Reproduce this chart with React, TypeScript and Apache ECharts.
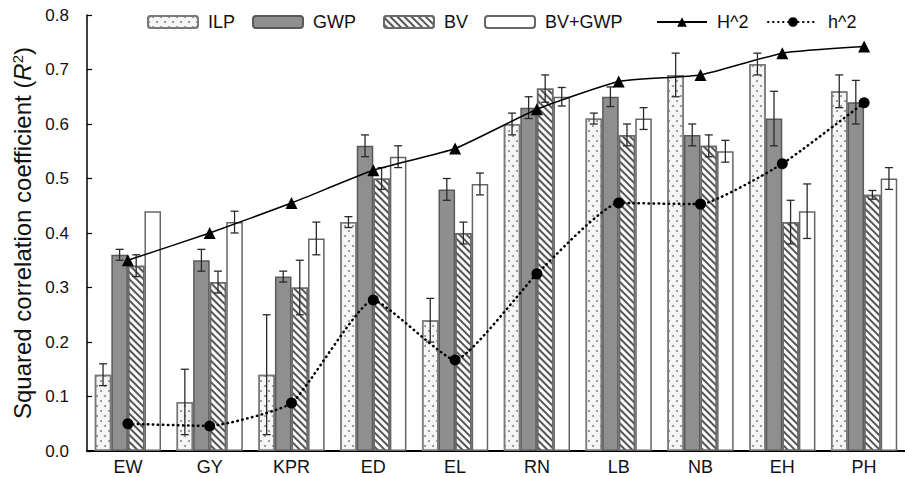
import React, { useEffect, useRef } from "react";
import * as echarts from "echarts";

const categories = ["EW", "GY", "KPR", "ED", "EL", "RN", "LB", "NB", "EH", "PH"];
const ilp = [0.14, 0.09, 0.14, 0.42, 0.24, 0.6, 0.61, 0.69, 0.71, 0.66];
const ilpErr = [0.02, 0.06, 0.11, 0.01, 0.04, 0.02, 0.01, 0.04, 0.02, 0.03];
const gwp = [0.36, 0.35, 0.32, 0.56, 0.48, 0.63, 0.65, 0.58, 0.61, 0.64];
const gwpErr = [0.01, 0.02, 0.01, 0.02, 0.02, 0.02, 0.018, 0.02, 0.05, 0.04];
const bv = [0.34, 0.31, 0.3, 0.5, 0.4, 0.665, 0.58, 0.56, 0.42, 0.47];
const bvErr = [0.02, 0.02, 0.05, 0.02, 0.02, 0.025, 0.02, 0.02, 0.04, 0.008];
const bvgwp = [0.44, 0.42, 0.39, 0.54, 0.49, 0.65, 0.61, 0.55, 0.44, 0.5];
const bvgwpErr = [0, 0.02, 0.03, 0.02, 0.02, 0.017, 0.02, 0.02, 0.05, 0.02];
const H2 = [0.35, 0.4, 0.455, 0.515, 0.555, 0.627, 0.678, 0.69, 0.73, 0.742];
const h2 = [0.05, 0.046, 0.088, 0.277, 0.167, 0.325, 0.455, 0.453, 0.527, 0.639];
const yTicks = [0, 0.1, 0.2, 0.3, 0.4, 0.5, 0.6, 0.7, 0.8];

const GAP = 0.19;
const FONT = "'Liberation Sans', Arial, sans-serif";

function makeErr(name: string, k: number, vals: number[], errs: number[]) {
  return {
    type: "custom",
    name: name + "_err",
    z: 5,
    silent: true,
    encode: { x: 0, y: [1, 2] },
    data: vals.map((v, i) => [i, v - errs[i], v + errs[i]]),
    renderItem: (params: any, api: any) => {
      const i = api.value(0);
      const lo = api.value(1);
      const hi = api.value(2);
      if (hi - lo <= 0) return null;
      const p1 = api.coord([i, hi]);
      const p2 = api.coord([i, lo]);
      const band = api.size([1, 0])[0];
      const bw = (band * (1 - GAP)) / 4;
      const x = p1[0] + (k - 1.5) * bw;
      const style = { stroke: "#2a2a2a", lineWidth: 1.3, fill: "none" };
      return {
        type: "group",
        children: [
          { type: "line", shape: { x1: x, y1: p1[1], x2: x, y2: p2[1] }, style },
          { type: "line", shape: { x1: x - 4, y1: p1[1], x2: x + 4, y2: p1[1] }, style },
          { type: "line", shape: { x1: x - 4, y1: p2[1], x2: x + 4, y2: p2[1] }, style },
        ],
      };
    },
  };
}

function legendAt(name: string, left: number) {
  return {
    data: [name],
    left,
    top: 13,
    padding: 0,
    itemWidth: 50,
    itemHeight: 12,
    textStyle: { fontSize: 18, color: "#111", fontFamily: FONT, padding: [0, 0, 0, 5] },
  };
}

export default function App() {
  const ref = useRef<HTMLDivElement>(null);
  useEffect(() => {
    if (!ref.current) return;
    const chart = echarts.init(ref.current, undefined, { renderer: "svg" });
    const barCommon = {
      type: "bar",
      barGap: "0%",
      barCategoryGap: GAP * 100 + "%",
      z: 2,
    };
    chart.setOption({
      animation: false,
      textStyle: { fontFamily: FONT },
      legend: [
        legendAt("ILP", 147),
        legendAt("GWP", 252),
        legendAt("BV", 383),
        legendAt("BV+GWP", 484),
        legendAt("H^2", 656),
        legendAt("h^2", 767),
      ],
      grid: { left: 87, right: -8, top: 15, bottom: 26, containLabel: false },
      xAxis: {
        type: "category",
        data: categories,
        axisLine: { lineStyle: { color: "#000", width: 2 } },
        axisTick: { inside: true, length: 5, lineStyle: { color: "#000", width: 1.2 } },
        axisLabel: { fontSize: 18, color: "#111", margin: 7, fontFamily: FONT },
      },
      yAxis: {
        type: "value",
        min: yTicks[0],
        max: yTicks[yTicks.length - 1],
        interval: 0.1,
        name: "Squared correlation coefficient ({it|R}{sup|2})",
        nameLocation: "middle",
        nameGap: 50,
        nameRotate: 90,
        nameTextStyle: {
          fontSize: 24,
          color: "#111",
          fontFamily: FONT,
          rich: {
            it: { fontSize: 24, fontStyle: "italic", color: "#111", fontFamily: FONT },
            sup: { fontSize: 15, color: "#111", verticalAlign: "top", fontFamily: FONT },
          },
        },
        axisLine: { show: true, lineStyle: { color: "#000", width: 1.5 } },
        axisTick: { show: true, inside: true, length: 5, lineStyle: { color: "#000", width: 1.2 } },
        axisLabel: {
          fontSize: 17,
          color: "#111",
          margin: 18,
          fontFamily: FONT,
          formatter: (v: number) => v.toFixed(1),
        },
        splitLine: { show: false },
      },
      series: [
        {
          ...barCommon,
          name: "ILP",
          data: ilp,
          itemStyle: {
            color: "#f6f6f6",
            borderColor: "#7a7a7a",
            borderWidth: 1.5,
            decal: {
              symbol: "circle",
              symbolSize: 1,
              color: "#8a8a8a",
              dashArrayX: [[1.6, 5.4], [0, 3.5, 1.6, 1.9]],
              dashArrayY: [1.6, 2.4],
              rotation: 0,
            },
          },
        },
        {
          ...barCommon,
          name: "GWP",
          data: gwp,
          itemStyle: { color: "#8f8f8f", borderColor: "#5a5a5a", borderWidth: 1.5 },
        },
        {
          ...barCommon,
          name: "BV",
          data: bv,
          itemStyle: {
            color: "#fafafa",
            borderColor: "#6a6a6a",
            borderWidth: 1.5,
            decal: {
              symbol: "rect",
              symbolSize: 1,
              color: "#555",
              dashArrayX: [[1, 0]],
              dashArrayY: [1.5, 2.8],
              rotation: Math.PI / 4,
            },
          },
        },
        {
          ...barCommon,
          name: "BV+GWP",
          data: bvgwp,
          itemStyle: { color: "#ffffff", borderColor: "#666", borderWidth: 1.5 },
        },
        makeErr("ILP", 0, ilp, ilpErr),
        makeErr("GWP", 1, gwp, gwpErr),
        makeErr("BV", 2, bv, bvErr),
        makeErr("BV+GWP", 3, bvgwp, bvgwpErr),
        {
          type: "line",
          name: "H^2",
          data: H2,
          z: 10,
          smooth: 0.15,
          symbol: "triangle",
          symbolSize: 12,
          itemStyle: { color: "#000" },
          lineStyle: { color: "#000", width: 1.5 },
        },
        {
          type: "line",
          name: "h^2",
          data: h2,
          z: 10,
          smooth: 0.15,
          symbol: "circle",
          symbolSize: 11,
          itemStyle: { color: "#000" },
          lineStyle: { color: "#000", width: 2.5, type: [0.5, 4.5], cap: "round" },
        },
      ],
    });
    return () => chart.dispose();
  }, []);
  return (
    <div
      ref={ref}
      style={{ position: "fixed", left: 0, top: 0, width: 905, height: 477, background: "#fff" }}
    />
  );
}
